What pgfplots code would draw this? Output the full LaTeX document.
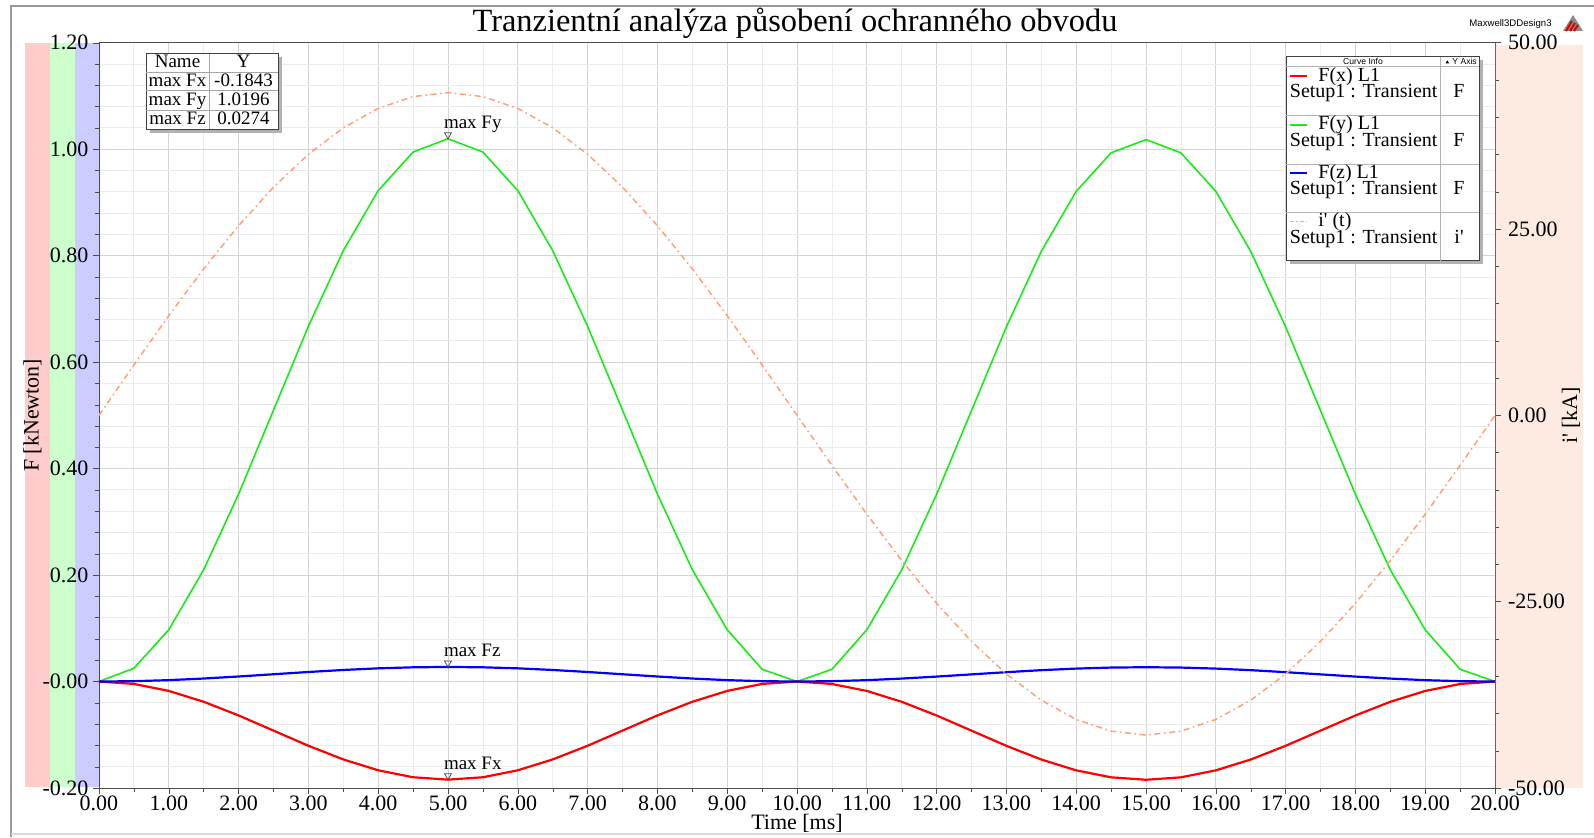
\documentclass[border=0pt]{standalone}
\usepackage{fontspec}
\setmainfont{Liberation Serif}
\newfontfamily\sans{Liberation Sans}
\usepackage{pgfplots}
\usepackage{pgfplotstable}
\pgfplotsset{compat=1.18}

\definecolor{fxred}{RGB}{255,0,0}
\definecolor{fygreen}{RGB}{25,235,25}
\definecolor{fzblue}{RGB}{0,0,255}
\definecolor{ipeach}{RGB}{255,160,120}
\definecolor{stripred}{RGB}{255,204,204}
\definecolor{stripgreen}{RGB}{204,255,204}
\definecolor{stripblue}{RGB}{204,204,255}
\definecolor{stripright}{RGB}{253,235,226}

% forces [kN] and current [kA] against time [ms]
\pgfplotstableread{
t     Fx        Fy       Fz       I
0.0   0         0        0        0
0.5  -0.00451   0.02495  0.00067  6.773
1.0  -0.01760   0.09736  0.00262  13.381
1.5  -0.03799   0.21015  0.00565  19.658
2.0  -0.06367   0.35226  0.00947  25.451
2.5  -0.09215   0.50980  0.01370  30.618
3.0  -0.12063   0.66734  0.01793  35.031
3.5  -0.14631   0.80945  0.02175  38.581
4.0  -0.16670   0.92224  0.02478  41.181
4.5  -0.17979   0.99465  0.02673  42.767
5.0  -0.18430   1.01960  0.02740  43.300
5.5  -0.17979   0.99465  0.02673  42.767
6.0  -0.16670   0.92224  0.02478  41.181
6.5  -0.14631   0.80945  0.02175  38.581
7.0  -0.12063   0.66734  0.01793  35.031
7.5  -0.09215   0.50980  0.01370  30.618
8.0  -0.06367   0.35226  0.00947  25.451
8.5  -0.03799   0.21015  0.00565  19.658
9.0  -0.01760   0.09736  0.00262  13.381
9.5  -0.00451   0.02300  0.00067  6.773
10.0  0         0        0        0
10.5 -0.00455   0.02300  0.00066 -6.711
11.0 -0.01765   0.09720  0.00258 -13.257
11.5 -0.03805   0.20980  0.00556 -19.476
12.0 -0.06375   0.35170  0.00932 -25.216
12.5 -0.09225   0.50900  0.01345 -30.335
13.0 -0.12075   0.66630  0.01760 -34.707
13.5 -0.14645   0.80820  0.02136 -38.224
14.0 -0.16685   0.92080  0.02433 -40.800
14.5 -0.17995   0.99310  0.02624 -42.372
15.0 -0.18450   1.01800  0.02690 -42.900
15.5 -0.17995   0.99310  0.02624 -42.372
16.0 -0.16685   0.92080  0.02433 -40.800
16.5 -0.14645   0.80820  0.02136 -38.224
17.0 -0.12075   0.66630  0.01760 -34.707
17.5 -0.09225   0.50900  0.01345 -30.335
18.0 -0.06375   0.35170  0.00932 -25.216
18.5 -0.03805   0.20980  0.00556 -19.476
19.0 -0.01765   0.09720  0.00258 -13.257
19.5 -0.00455   0.02300  0.00066 -6.711
20.0  0         0        0        0
}\forces

\begin{document}
\begin{tikzpicture}[font=\fontsize{11}{12}\selectfont]
\path[use as bounding box] (-49.5pt,-24.5pt) rectangle (747.5pt,394pt);

% background: frame and coloured axis strips (pixel coordinates)
\begin{scope}[x=0.5pt,y=-0.5pt,shift={(-99,-788)}]
  \fill[white] (0,0) rectangle (1594,837);
  \draw[black!40,line width=0.8pt] (11,837)--(11,6)--(1594,6);
  \draw[black!15,line width=0.8pt] (11,834)--(1594,834);
  \fill[stripred] (25,42.7) rectangle (50,787);
  \fill[stripgreen] (50,42.7) rectangle (75,787);
  \fill[stripblue] (75,42.7) rectangle (99,787);
  \fill[stripright] (1495,45) rectangle (1583,788);
\end{scope}

\begin{axis}[
  at={(0,0)}, anchor=south west,
  scale only axis, width=698pt, height=372.65pt,
  xmin=0, xmax=20, ymin=-0.2, ymax=1.2,
  xtick={0,1,...,20},
  xticklabels={0.00,1.00,2.00,3.00,4.00,5.00,6.00,7.00,8.00,9.00,10.00,11.00,12.00,13.00,14.00,15.00,16.00,17.00,18.00,19.00,20.00},
  ytick={-0.2,0,0.2,0.4,0.6,0.8,1.0,1.2},
  yticklabels={-0.20,-0.00,0.20,0.40,0.60,0.80,1.00,1.20},
  minor x tick num=1, minor y tick num=4,
  grid=both,
  major grid style={black!17},
  minor grid style={black!8},
  tick align=outside, xtick pos=bottom, ytick pos=left,
  major tick length=3pt, minor tick length=2pt,
  tick style={black!70},
  axis line style={black!70},
  tick label style={font=\fontsize{11}{12}\selectfont},
  xticklabel style={yshift=2.8pt},
  yticklabel style={xshift=1.2pt},
  xlabel={Time [ms]}, ylabel={F [kNewton]},
  every axis x label/.style={at={(axis description cs:0.5,-0.0475)},anchor=center},
  every axis y label/.style={at={(axis description cs:-0.0476,0.5)},rotate=90,anchor=center},
  label style={font=\fontsize{11}{12}\selectfont},
]
\addplot[fygreen, line width=0.8pt] table[x=t,y=Fy]{\forces};
\addplot[fxred, line width=1.1pt] table[x=t,y=Fx]{\forces};
\addplot[fzblue, line width=1.1pt] table[x=t,y=Fz]{\forces};
% maximum markers
\addplot[only marks, mark=triangle, mark size=2pt,
  mark options={draw=black!70, fill=white, line width=0.4pt, yshift=2pt, rotate=180},
  point meta=explicit symbolic, nodes near coords,
  nodes near coords style={anchor=base west, xshift=-2.2pt, yshift=3pt, inner sep=0pt,
    font=\fontsize{9.5}{10}\selectfont, text=black}]
  coordinates {(5,1.0196)[max Fy] (5,0.0274)[max Fz] (5,-0.1843)[max Fx]};
\end{axis}

\begin{axis}[
  at={(0,0)}, anchor=south west,
  scale only axis, width=698pt, height=372.65pt,
  xmin=0, xmax=20, ymin=-50, ymax=50,
  axis y line*=right, axis x line=none,
  ytick={-50,-25,0,25,50},
  yticklabels={-50.00,-25.00,0.00,25.00,50.00},
  minor y tick num=4,
  tick align=outside,
  major tick length=3pt, minor tick length=2pt,
  tick style={black!70},
  axis line style={black!60},
  tick label style={font=\fontsize{11}{12}\selectfont},
  ylabel={i\textquotesingle{} [kA]},
  every axis y label/.style={at={(axis description cs:1.0544,0.5)},rotate=90,anchor=center},
  label style={font=\fontsize{11}{12}\selectfont},
]
\addplot[ipeach, line width=0.75pt, dash pattern=on 3pt off 1.8pt on 0.8pt off 1.8pt] table[x=t,y=I]{\forces};
\end{axis}

% title, table of maxima, curve info box, logo (pixel coordinates)
\begin{scope}[x=0.5pt,y=-0.5pt,shift={(-99,-788)}]
  \node[font=\fontsize{16.2}{18}\selectfont] at (795,23) {Tranzientní analýza působení ochranného obvodu};

  % maxima table
  \fill[black!30] (149.5,57.5) rectangle (281.5,132.8);
  \filldraw[fill=white, draw=black!75, line width=0.5pt] (146,54) rectangle (278,129.3);
  \draw[black!35, line width=0.4pt] (146,72.3)--(278,72.3) (146,90.7)--(278,90.7) (146,110)--(278,110) (209,54)--(209,129.3);
  \begin{scope}[every node/.style={font=\fontsize{9.5}{10}\selectfont, inner sep=0pt, anchor=base}]
    \node at (177.5,68) {Name};      \node at (243.5,68) {Y};
    \node at (177.5,86.5) {max Fx};  \node at (243.5,86.5) {-0.1843};
    \node at (177.5,105.3) {max Fy}; \node at (243.5,105.3) {1.0196};
    \node at (177.5,124.5) {max Fz}; \node at (243.5,124.5) {0.0274};
  \end{scope}

  % curve info box
  \fill[black!30] (1289.5,60.2) rectangle (1482.5,264.2);
  \filldraw[fill=white, draw=black!75, line width=0.5pt] (1286,56.7) rectangle (1479,260.7);
  \draw[black!30, line width=0.4pt] (1286,66.7)--(1479,66.7) (1286,115.7)--(1479,115.7) (1286,164)--(1479,164) (1286,212.3)--(1479,212.3) (1440.7,56.7)--(1440.7,260.7);
  \node[font=\sans\fontsize{4.3}{5}\selectfont, inner sep=0pt] at (1363,61.5) {Curve Info};
  \fill[black] (1445.5,63.3)--(1447.3,60.3)--(1449.1,63.3)--cycle;
  \node[font=\sans\fontsize{4.3}{5}\selectfont, inner sep=0pt, anchor=west] at (1452,61.5) {Y Axis};
  \begin{scope}[every node/.style={font=\fontsize{10}{11}\selectfont, inner sep=0pt}]
    \draw[fxred, line width=0.8pt] (1290,76.3)--(1307,76.3);
    \node[anchor=base west] at (1318,81.3) {F(x) L1};
    \node[anchor=base west] at (1289.5,98) {Setup1 : Transient};
    \node[anchor=base] at (1459,98) {F};
    \draw[fygreen, line width=0.8pt] (1290,124.8)--(1307,124.8);
    \node[anchor=base west] at (1318,129.8) {F(y) L1};
    \node[anchor=base west] at (1289.5,146.5) {Setup1 : Transient};
    \node[anchor=base] at (1459,146.5) {F};
    \draw[fzblue, line width=0.8pt] (1290,173.1)--(1307,173.1);
    \node[anchor=base west] at (1318,178.1) {F(z) L1};
    \node[anchor=base west] at (1289.5,194.8) {Setup1 : Transient};
    \node[anchor=base] at (1459,194.8) {F};
    \draw[ipeach, line width=0.8pt, dash pattern=on 2pt off 1.2pt on 0.6pt off 1.2pt] (1290,221.4)--(1307,221.4);
    \node[anchor=base west] at (1318,226.4) {i\textquotesingle{} (t)};
    \node[anchor=base west] at (1289.5,243.1) {Setup1 : Transient};
    \node[anchor=base] at (1459,243.1) {i\textquotesingle};
  \end{scope}

  % software tag and logo
  \node[font=\sans\fontsize{4.8}{5}\selectfont, anchor=east, inner sep=0pt] at (1552,24) {Maxwell3DDesign3};
  \fill[black!45] (1563,31)--(1573,15)--(1583,31)--cycle;
  \draw[red!85!black, line width=1pt] (1566,31)--(1572,21) (1570,31)--(1575,23) (1574,31)--(1578,25);
\end{scope}
\end{tikzpicture}
\end{document}
